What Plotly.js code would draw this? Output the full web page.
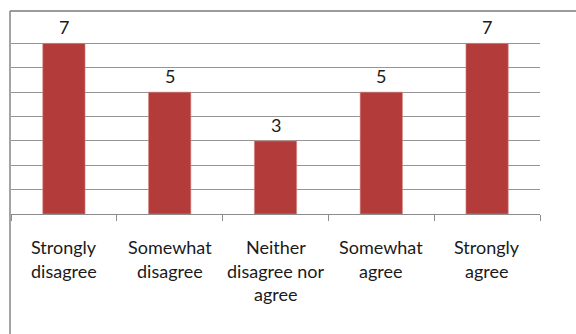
<!DOCTYPE html>
<html>
<head>
<meta charset="utf-8">
<script src="https://cdn.plot.ly/plotly-3.0.1.min.js"></script>
<style>
  html, body { margin: 0; padding: 0; background: #fff; }
  #chart { width: 576px; height: 334px; }
</style>
</head>
<body>
<div id="chart"></div>
<script>
const categories = ["Strongly disagree", "Somewhat disagree", "Neither disagree nor agree", "Somewhat agree", "Strongly agree"];
const labelLines = [["Strongly", "disagree"], ["Somewhat", "disagree"], ["Neither", "disagree nor", "agree"], ["Somewhat", "agree"], ["Strongly", "agree"]];
const values = [7, 5, 3, 5, 7];

const W = 576, H = 334;
const M = { l: 11, r: 36, t: 19, b: 120 };
const pw = W - M.l - M.r, ph = H - M.t - M.b;
const px = x => (x - M.l) / pw;
const py = y => (H - M.b - y) / ph;

const FONT = "Lato, 'Liberation Sans', sans-serif";
const TEXT_COLOR = "#1a1a1a";

const annotations = [];
values.forEach((v, i) => {
  annotations.push({
    x: categories[i], y: v, xref: "x", yref: "y",
    text: String(v), showarrow: false,
    xanchor: "center", yanchor: "middle", yshift: 16,
    font: { family: FONT, size: 18, color: TEXT_COLOR }
  });
});
labelLines.forEach((lines, i) => {
  lines.forEach((ln, j) => {
    annotations.push({
      x: categories[i], y: 0, xref: "x", yref: "y",
      text: ln, showarrow: false,
      xanchor: "center", yanchor: "middle", yshift: -33 - j * 23.5,
      font: { family: FONT, size: 18, color: TEXT_COLOR }
    });
  });
});

const shapes = [
  { type: "line", xref: "paper", yref: "paper", x0: px(10), x1: px(10), y0: py(11), y1: py(H + 2), line: { color: "#858585", width: 1.5 } },
  { type: "line", xref: "paper", yref: "paper", x0: px(10), x1: px(W + 2), y0: py(11), y1: py(11), line: { color: "#7a7a7a", width: 1.5 } }
];

const trace = {
  type: "bar",
  x: categories,
  y: values,
  marker: { color: "#B33C3B", line: { color: "#D88C8A", width: 0.6 } },
  hoverinfo: "none"
};

const layout = {
  width: W, height: H,
  margin: M,
  paper_bgcolor: "#ffffff",
  plot_bgcolor: "#ffffff",
  showlegend: false,
  bargap: 0.6,
  xaxis: {
    type: "category",
    showline: true, linecolor: "#8c8c8c", linewidth: 1,
    ticks: "outside", tickson: "boundaries", ticklen: 6, tickcolor: "#8c8c8c", tickwidth: 1,
    showticklabels: false, showgrid: false, zeroline: false, fixedrange: true
  },
  yaxis: {
    range: [0, 8], dtick: 1, tick0: 0,
    showgrid: true, gridcolor: "#959595", gridwidth: 1,
    showticklabels: false, ticks: "", zeroline: false, showline: false, fixedrange: true
  },
  annotations: annotations,
  shapes: shapes
};

Plotly.newPlot("chart", [trace], layout, { displayModeBar: false, staticPlot: true });
</script>
</body>
</html>
